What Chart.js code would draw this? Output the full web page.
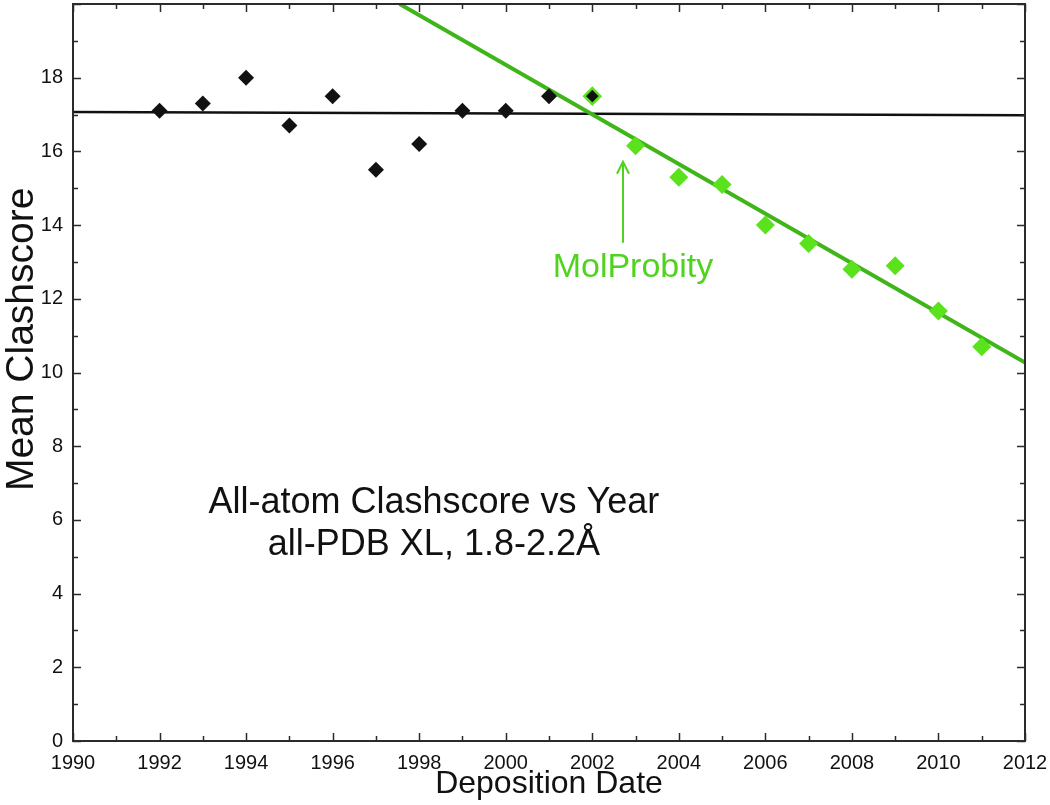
<!DOCTYPE html>
<html>
<head>
<meta charset="utf-8">
<script src="https://cdn.jsdelivr.net/npm/chart.js@4"></script>
<style>
  html, body { margin: 0; padding: 0; background: #fff; }
  #wrap { width: 1050px; height: 805px; }
</style>
</head>
<body>
<div id="wrap"><canvas id="c" width="1050" height="805"></canvas></div>
<script>
// ---- data ----
const blackYears = [1992, 1993, 1994, 1995, 1996, 1997, 1998, 1999, 2000, 2001, 2002];
const blackScores = [17.1, 17.3, 18.0, 16.7, 17.5, 15.5, 16.2, 17.1, 17.1, 17.5, 17.5];
const greenYears = [2003, 2004, 2005, 2006, 2007, 2008, 2009, 2010, 2011];
const greenScores = [16.15, 15.3, 15.1, 14.0, 13.5, 12.8, 12.9, 11.67, 10.7];
const flatFitYears = [1990, 2012];
const flatFitScores = [17.07, 16.98];
const molFitYears = [1997.55, 2012];
const molFitScores = [20.0, 10.27];
const xTickLabels = [1990, 1992, 1994, 1996, 1998, 2000, 2002, 2004, 2006, 2008, 2010, 2012];
const yTickLabels = [0, 2, 4, 6, 8, 10, 12, 14, 16, 18];
const yAxisTitle = 'Mean Clashscore';
const xAxisTitle = 'Deposition Date';
const titleLines = ['All-atom Clashscore vs Year', 'all-PDB XL, 1.8-2.2\u00C5'];
const titleAnchor = { x: 1998.34, y: [6.19, 5.05] };
const molLabel = 'MolProbity';
const molLabelAnchor = { x: 2002.94, y: 12.6 };
const arrowAnchor = { x: 2002.71, yTop: 15.72, yBottom: 13.52 };
const yTitleCenterValue = 10.9;

const FONT = '"Liberation Sans", Arial, Helvetica, sans-serif';
const GREEN_PT = '#5ae21c';
const GREEN_LINE = '#3fb51a';
const GREEN_TXT = '#4fd31f';
const AXIS = '#2b2b2b';

const zip = (xs, ys) => xs.map((x, i) => ({ x: x, y: ys[i] }));

const framePlugin = {
  id: 'frame',
  afterDatasetsDraw(chart) {
    const { ctx, chartArea: a, scales: { x, y } } = chart;
    ctx.save();
    ctx.strokeStyle = AXIS;
    ctx.lineWidth = 2;
    ctx.strokeRect(a.left, a.top, a.right - a.left, a.bottom - a.top);
    ctx.lineWidth = 1.5;
    ctx.beginPath();
    for (let v = x.min; v <= x.max; v += 1) {
      const px = Math.round(x.getPixelForValue(v)) + 0.5;
      const len = (v % 2 === 0) ? 8 : 5;
      ctx.moveTo(px, a.bottom); ctx.lineTo(px, a.bottom - len);
      ctx.moveTo(px, a.top); ctx.lineTo(px, a.top + len);
    }
    for (let v = y.min; v <= y.max; v += 1) {
      const py = Math.round(y.getPixelForValue(v)) + 0.5;
      const len = (v % 2 === 0) ? 8 : 5;
      ctx.moveTo(a.left, py); ctx.lineTo(a.left + len, py);
      ctx.moveTo(a.right, py); ctx.lineTo(a.right - len, py);
    }
    ctx.stroke();

    // y axis title (rotated)
    ctx.save();
    ctx.fillStyle = '#111';
    ctx.font = '39px ' + FONT;
    ctx.textAlign = 'center';
    ctx.textBaseline = 'alphabetic';
    ctx.translate(33, y.getPixelForValue(yTitleCenterValue));
    ctx.rotate(-Math.PI / 2);
    ctx.fillText(yAxisTitle, 0, 0);
    ctx.restore();

    // annotation title
    ctx.fillStyle = '#111';
    ctx.font = '36px ' + FONT;
    ctx.textAlign = 'center';
    ctx.textBaseline = 'alphabetic';
    const tx = x.getPixelForValue(titleAnchor.x);
    titleLines.forEach((t, i) => ctx.fillText(t, tx, y.getPixelForValue(titleAnchor.y[i])));

    // MolProbity label + arrow
    ctx.fillStyle = GREEN_TXT;
    ctx.font = '34px ' + FONT;
    ctx.fillText(molLabel, x.getPixelForValue(molLabelAnchor.x), y.getPixelForValue(molLabelAnchor.y));
    const ax = x.getPixelForValue(arrowAnchor.x);
    const ay1 = y.getPixelForValue(arrowAnchor.yTop);
    const ay2 = y.getPixelForValue(arrowAnchor.yBottom);
    ctx.strokeStyle = GREEN_TXT;
    ctx.lineWidth = 2;
    ctx.beginPath();
    ctx.moveTo(ax, ay2); ctx.lineTo(ax, ay1);
    ctx.moveTo(ax - 6, ay1 + 12); ctx.lineTo(ax, ay1); ctx.lineTo(ax + 6, ay1 + 12);
    ctx.stroke();
    ctx.restore();
  }
};

new Chart(document.getElementById('c'), {
  type: 'scatter',
  data: {
    datasets: [
      {
        label: 'flat fit',
        data: zip(flatFitYears, flatFitScores),
        showLine: true, borderColor: '#111', borderWidth: 2.5, pointRadius: 0, order: 3
      },
      {
        label: 'MolProbity fit',
        data: zip(molFitYears, molFitScores),
        showLine: true, borderColor: GREEN_LINE, borderWidth: 4, pointRadius: 0, order: 2
      },
      {
        label: 'pre-MolProbity',
        data: zip(blackYears, blackScores),
        pointStyle: 'rectRot', pointRadius: 8,
        backgroundColor: '#111',
        borderColor: blackYears.map(yv => yv === 2002 ? GREEN_PT : '#111'),
        borderWidth: blackYears.map(yv => yv === 2002 ? 2.5 : 0),
        order: 1
      },
      {
        label: 'post-MolProbity',
        data: zip(greenYears, greenScores),
        pointStyle: 'rectRot', pointRadius: 9.5,
        backgroundColor: GREEN_PT, borderColor: GREEN_PT, borderWidth: 0,
        order: 0
      }
    ]
  },
  options: {
    responsive: false,
    animation: false,
    layout: { autoPadding: false, padding: { top: 4, right: 25, left: 0, bottom: 0 } },
    plugins: { legend: { display: false }, tooltip: { enabled: false } },
    scales: {
      x: {
        type: 'linear', min: 1990, max: 2012,
        afterFit(s) { s.height = 64; s.paddingLeft = 0; s.paddingRight = 0; },
        afterBuildTicks(s) { s.ticks = xTickLabels.map(v => ({ value: v })); },
        grid: { display: false, drawTicks: false },
        border: { display: false },
        ticks: { color: '#111', font: { family: FONT, size: 20 }, padding: 10, maxRotation: 0, autoSkip: false, callback: v => String(v) },
        title: { display: true, text: xAxisTitle, color: '#111', font: { family: FONT, size: 32 }, padding: { top: 0, bottom: 2 } }
      },
      y: {
        type: 'linear', min: 0, max: 20,
        afterFit(s) { s.width = 73; s.paddingTop = 0; s.paddingBottom = 0; },
        afterBuildTicks(s) { s.ticks = yTickLabels.map(v => ({ value: v })); },
        grid: { display: false, drawTicks: false },
        border: { display: false },
        ticks: { color: '#111', font: { family: FONT, size: 20 }, padding: 10, autoSkip: false, callback: v => String(v) },
        title: { display: false }
      }
    }
  },
  plugins: [framePlugin]
});
</script>
</body>
</html>
